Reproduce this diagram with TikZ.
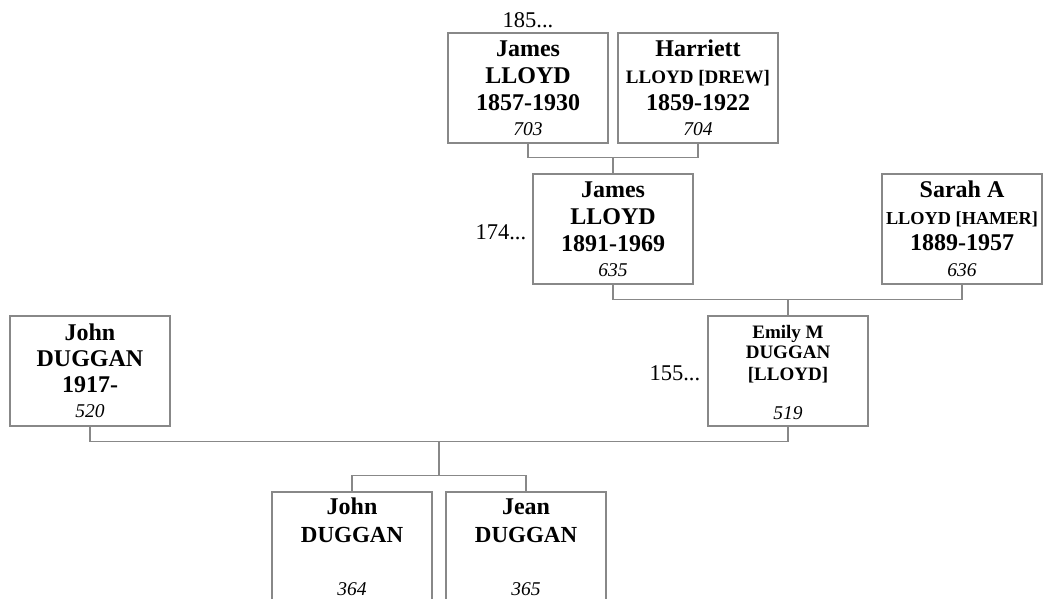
\documentclass[tikz,border=0pt]{standalone}
\usepackage{fontspec}
\setmainfont{Liberation Serif}
\usetikzlibrary{calc}
\definecolor{linegray}{RGB}{136,136,136}
\tikzset{
  pbox/.style={draw=linegray, line width=1.25pt, minimum width=160pt, minimum height=110pt, inner sep=0pt},
  conn/.style={draw=linegray, line width=1.25pt},
  txt/.style={anchor=base, inner sep=0pt},
  big/.style={txt, font=\bfseries\fontsize{24}{24}\selectfont},
  mid/.style={txt, font=\bfseries\fontsize{19}{19}\selectfont},
  num/.style={txt, font=\itshape\fontsize{19.5}{19.5}\selectfont},
  lab/.style={inner sep=0pt, font=\fontsize{22.5}{22.5}\selectfont}
}
\begin{document}
\begin{tikzpicture}[x=1pt,y=-1pt]
\clip (0,0) rectangle (1046,598);
\fill[white] (0,0) rectangle (1046,598);

% boxes
\node[pbox] (p703) at (528,88) {};
\node[pbox] (p704) at (698,88) {};
\node[pbox] (p635) at (613,229) {};
\node[pbox] (p636) at (962,229) {};
\node[pbox] (p520) at (90,371) {};
\node[pbox] (p519) at (788,371) {};
\node[pbox] (p364) at (352,547) {};
\node[pbox] (p365) at (526,547) {};

% texts 703
\node[big] (t703a) at ($(p703.north)+(0,24)$) {James};
\node[big] (t703b) at ($(p703.north)+(0,51.5)$) {LLOYD};
\node[big] (t703c) at ($(p703.north)+(0,78.5)$) {1857-1930};
\node[num] (t703d) at ($(p703.north)+(0,103.5)$) {703};
% 704
\node[big] (t704a) at ($(p704.north)+(0,24)$) {Harriett};
\node[mid] (t704b) at ($(p704.north)+(0,51.5)$) {LLOYD [DREW]};
\node[big] (t704c) at ($(p704.north)+(0,78.5)$) {1859-1922};
\node[num] (t704d) at ($(p704.north)+(0,103.5)$) {704};
% 635
\node[big] (t635a) at ($(p635.north)+(0,24.5)$) {James};
\node[big] (t635b) at ($(p635.north)+(0,51.5)$) {LLOYD};
\node[big] (t635c) at ($(p635.north)+(0,78.5)$) {1891-1969};
\node[num] (t635d) at ($(p635.north)+(0,103.5)$) {635};
% 636
\node[big] (t636a) at ($(p636.north)+(0,24.5)$) {Sarah A};
\node[mid, font=\bfseries\fontsize{18.3}{18.3}\selectfont] (t636b) at ($(p636.north)+(0,51)$) {LLOYD [HAMER]};
\node[big] (t636c) at ($(p636.north)+(0,77.5)$) {1889-1957};
\node[num] (t636d) at ($(p636.north)+(0,103)$) {636};
% 520
\node[big] (t520a) at ($(p520.north)+(0,25)$) {John};
\node[big] (t520b) at ($(p520.north)+(0,51)$) {DUGGAN};
\node[big] (t520c) at ($(p520.north)+(0,77)$) {1917-};
\node[num] (t520d) at ($(p520.north)+(0,102)$) {520};
% 519
\node[mid] (t519a) at ($(p519.north)+(0,23)$) {Emily M};
\node[mid] (t519b) at ($(p519.north)+(0,43)$) {DUGGAN};
\node[mid] (t519c) at ($(p519.north)+(0,65)$) {[LLOYD]};
\node[num] (t519d) at ($(p519.north)+(0,104)$) {519};
% 364
\node[big] (t364a) at ($(p364.north)+(0,23)$) {John};
\node[big, font=\bfseries\fontsize{23}{23}\selectfont] (t364b) at ($(p364.north)+(0,51)$) {DUGGAN};
\node[num] (t364d) at ($(p364.north)+(0,104)$) {364};
% 365
\node[big] (t365a) at ($(p365.north)+(0,23)$) {Jean};
\node[big, font=\bfseries\fontsize{23}{23}\selectfont] (t365b) at ($(p365.north)+(0,51)$) {DUGGAN};
\node[num] (t365d) at ($(p365.north)+(0,104)$) {365};

% side labels
\node[lab, anchor=base] (l185) at ($(p703.north)+(0,-5)$) {185...};
\node[lab, anchor=base east] (l174) at ($(p635.west)+(-6,10)$) {174...};
\node[lab, anchor=base east] (l155) at ($(p519.west)+(-7,9)$) {155...};

% junctions
\coordinate (j1) at ($(p703.south)!0.5!(p704.south)+(0,14)$);
\coordinate (j2) at ($(p519.north)+(0,-16)$);
\coordinate (j3) at ($(p520.south)!0.5!(p519.south)+(0,15)$);
\coordinate (j4) at ($(p364.north)!0.5!(p365.north)+(0,-16)$);

% connectors
\draw[conn] (p703.south) |- (j1) -| (p704.south);
\draw[conn] (j1) -- (p635.north);
\draw[conn] (p635.south) |- (j2) -| (p636.south);
\draw[conn] (j2) -- (p519.north);
\draw[conn] (p520.south) |- (j3) -| (p519.south);
\draw[conn] (j3) -- (j4);
\draw[conn] (p364.north) |- (j4) -| (p365.north);
\end{tikzpicture}
\end{document}
